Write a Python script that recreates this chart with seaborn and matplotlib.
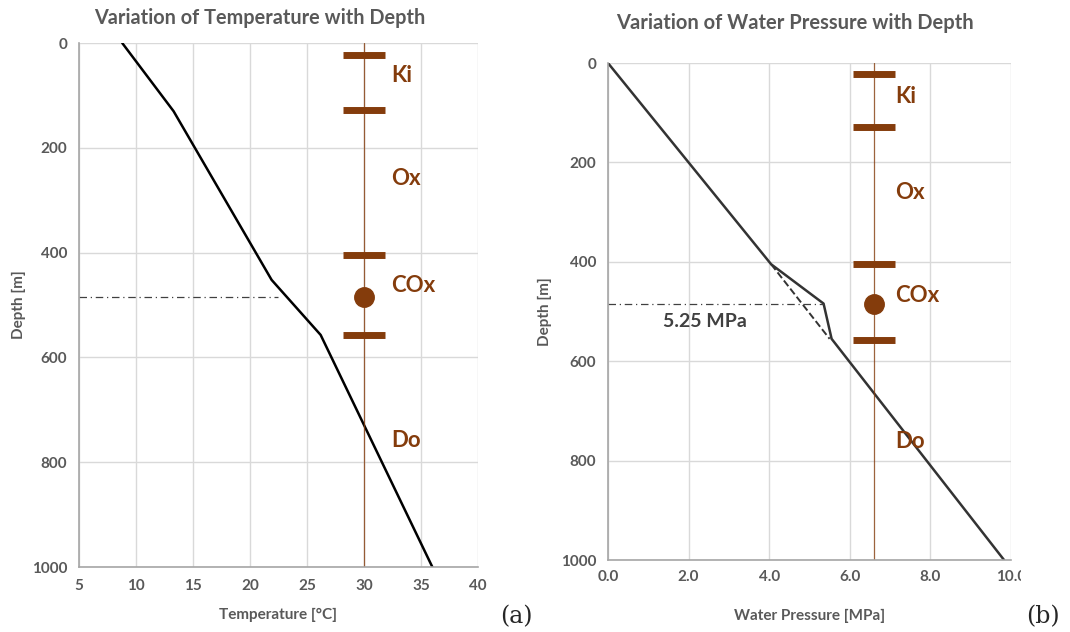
import matplotlib
matplotlib.use("Agg")
import matplotlib.pyplot as plt
import matplotlib.transforms as mtransforms
import pandas as pd
import seaborn as sns

# ---- data -----------------------------------------------------------------
temp_c = [8.8, 13.3, 21.9, 26.2, 36.0]
temp_depth = [0, 130, 452, 557, 1000]

pres_mpa = [0.0, 4.05, 5.35, 5.55, 9.83]
pres_depth = [0, 405, 484, 555, 1000]
hydro_mpa = [4.05, 5.5]
hydro_depth = [405, 555]

layer_bounds = [22, 128, 405, 557]
layer_names = ["Ki", "Ox", "COx", "Do"]
layer_label_depth_a = [61, 258, 462, 758]
layer_label_depth_b = [68, 260, 467, 761]
cox_depth = 484
cox_temp = 22.5
cox_pres = 5.35
marker_temp = 30
marker_pres = 6.6
pres_label = "5.25 MPa"

BROWN = "#843C0C"
GREY = "#595959"
GRID = "#D9D9D9"

sns.set_style("white")
plt.rcParams["font.family"] = ["Lato", "DejaVu Sans"]

fig = plt.figure(figsize=(10.7, 6.32), dpi=100)
ax_a = fig.add_axes([0.0738, 0.1028, 0.3729, 0.829])
ax_b = fig.add_axes([0.5682, 0.1139, 0.3766, 0.7864])

df_t = pd.DataFrame({"T": temp_c, "depth": temp_depth})
df_p = pd.DataFrame({"P": pres_mpa, "depth": pres_depth})
df_h = pd.DataFrame({"P": hydro_mpa, "depth": hydro_depth})


def style_axes(ax, xlim, xticks, xfmt):
    ax.set_xlim(*xlim)
    ax.set_ylim(1000, 0)
    ax.set_xticks(xticks)
    ax.set_xticklabels([xfmt.format(v) for v in xticks])
    ax.set_yticks(range(0, 1001, 200))
    ax.grid(True, color=GRID, lw=1)
    ax.set_axisbelow(True)
    for s in ["top", "right"]:
        ax.spines[s].set_visible(False)
    for s in ["left", "bottom"]:
        ax.spines[s].set_color("#A6A6A6")
        ax.spines[s].set_linewidth(1.2)
    ax.tick_params(axis="both", colors="#A6A6A6", labelcolor=GREY,
                   length=5, width=1, labelsize=11)
    for lab in ax.get_xticklabels() + ax.get_yticklabels():
        lab.set_fontweight("bold")


def draw_layers(ax, xpos, label_depths, xtext):
    ax.axvline(xpos, color=BROWN, lw=0.9, alpha=0.8, zorder=2)
    ax.plot([xpos] * len(layer_bounds), layer_bounds, ls="none",
            marker="_", ms=30, mew=5, color=BROWN, zorder=4)
    ax.plot([xpos], [cox_depth], ls="none", marker="o", ms=14,
            color=BROWN, zorder=4)
    for name, d in zip(layer_names, label_depths):
        ax.text(xtext, d, name, color=BROWN, fontsize=16,
                fontweight="bold", ha="left", va="center")


# ---- (a) temperature -------------------------------------------------------
sns.lineplot(data=df_t, x="T", y="depth", sort=False, estimator=None,
             color="black", lw=1.8, ax=ax_a)
ax_a.plot([5, cox_temp], [cox_depth, cox_depth], color="#404040",
          lw=0.9, ls=(0, (6, 3, 1, 3)))
style_axes(ax_a, (5, 40), range(5, 41, 5), "{:d}")
draw_layers(ax_a, marker_temp, layer_label_depth_a, 32.4)
ax_a.set_xlabel("Temperature [°C]", color=GREY, fontsize=11,
                fontweight="bold", labelpad=11)
ax_a.set_ylabel("Depth [m]", color=GREY, fontsize=11,
                fontweight="bold", labelpad=4)

# ---- (b) water pressure ----------------------------------------------------
sns.lineplot(data=df_p, x="P", y="depth", sort=False, estimator=None,
             color="#333333", lw=1.8, ax=ax_b)
sns.lineplot(data=df_h, x="P", y="depth", sort=False, estimator=None,
             color="#333333", lw=1.4, ls="--", ax=ax_b)
ax_b.plot([0, cox_pres], [cox_depth, cox_depth], color="#404040",
          lw=0.9, ls=(0, (6, 3, 1, 3)))
ax_b.text(2.4, 521, pres_label, color="#404040", fontsize=14,
          fontweight="bold", ha="center", va="center")
xt = [0, 2, 4, 6, 8, 10]
style_axes(ax_b, (0, 10), xt, "{:.1f}")
ax_b.tick_params(axis="x", pad=2)
draw_layers(ax_b, marker_pres, layer_label_depth_b, 7.12)
ax_b.set_xlabel("Water Pressure [MPa]", color=GREY, fontsize=11,
                fontweight="bold", labelpad=18)
ax_b.set_ylabel("Depth [m]", color=GREY, fontsize=11,
                fontweight="bold", labelpad=6)

# clip the last tick label like the Excel chart area does
clip = mtransforms.Bbox.from_extents(0, 0, 1021, 632)
for lab in ax_b.get_xticklabels():
    lab.set_clip_box(mtransforms.TransformedBbox(clip, mtransforms.IdentityTransform()))
    lab.set_clip_on(True)

# ---- titles and panel letters ---------------------------------------------
fig.text(0.243, 0.972, "Variation of Temperature with Depth", color=GREY,
         fontsize=14.3, fontweight="bold", ha="center", va="center")
fig.text(0.743, 0.964, "Variation of Water Pressure with Depth", color=GREY,
         fontsize=14.5, fontweight="bold", ha="center", va="center")
fig.text(0.483, 0.024, "(a)", family="DejaVu Serif", fontsize=17,
         ha="center", va="center")
fig.text(0.975, 0.024, "(b)", family="DejaVu Serif", fontsize=17,
         ha="center", va="center")

fig.savefig("out.png", dpi=100)
